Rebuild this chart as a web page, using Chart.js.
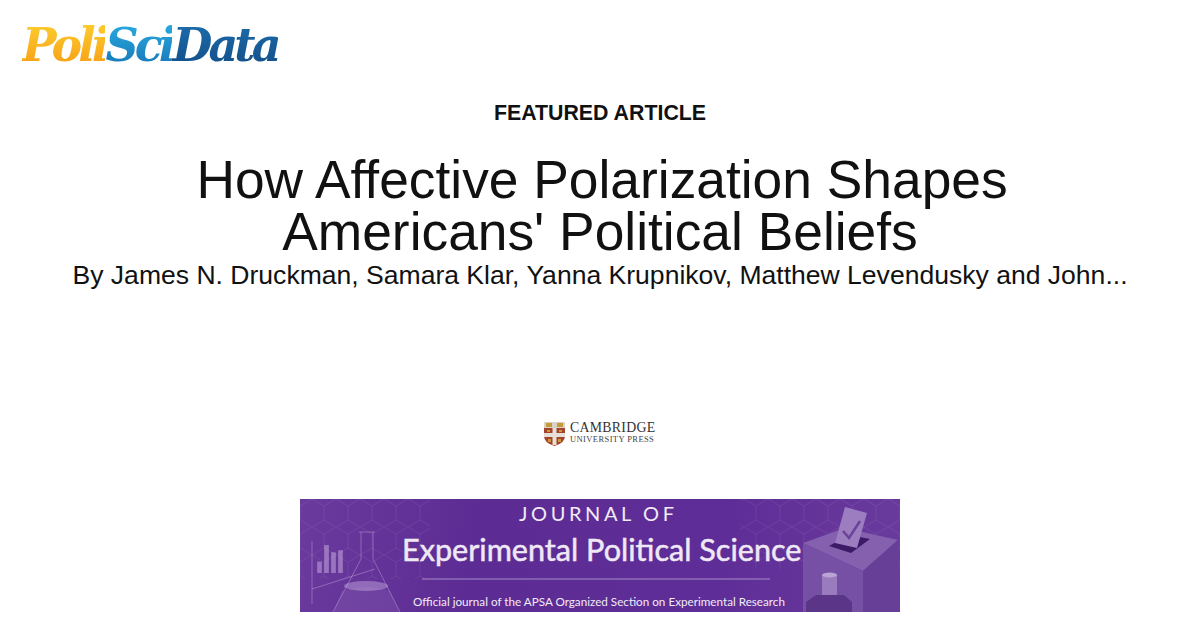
<!DOCTYPE html>
<html>
<head>
<meta charset="utf-8">
<script src="https://cdn.jsdelivr.net/npm/chart.js@4"></script>
<style>
html, body { margin: 0; padding: 0; background: #fff; }
#page { position: relative; width: 1200px; height: 630px; overflow: hidden; font-family: "Liberation Sans", Arial, sans-serif; color: #111; }
#page div, #page span, #page svg, #page canvas { position: absolute; white-space: nowrap; }
.center { left: 0; width: 1200px; text-align: center; }
#logo { left: 22px; top: 17px; font: italic 700 46px "DejaVu Serif", serif; letter-spacing: -3.9px; line-height: 56px; }
#logo span { position: static !important; -webkit-background-clip: text; background-clip: text; color: transparent; }
#poli { background-image: linear-gradient(#fcd232, #f79a12); }
#sci { background-image: linear-gradient(#2bb0e4, #1672b4); }
#data { background-image: linear-gradient(#1d6fae, #134c86); }
#banner { left: 300px; top: 499px; width: 600px; height: 113px; overflow: hidden;
  background: linear-gradient(100deg, #6a3a9d 0%, #5c2c94 30%, #5f2d97 70%, #6a3c9d 100%); }
#banner div { color: #f1ebf6; font-family: Lato, sans-serif; }
</style>
</head>
<body>
<div id="page">
  <div id="logo"><span id="poli">Poli</span><span id="sci">Sci</span><span id="data">Data</span></div>
  <div class="center" style="top:100px;font:bold 21.33px/26px 'Liberation Sans'">FEATURED ARTICLE</div>
  <div class="center" style="left:2px;top:154px;font:53.33px/52px 'Liberation Sans'">How Affective Polarization Shapes</div>
  <div class="center" style="top:206px;font:53.33px/52px 'Liberation Sans'">Americans' Political Beliefs</div>
  <div class="center" style="top:260px;font:26.55px/30px 'Liberation Sans'">By James N. Druckman, Samara Klar, Yanna Krupnikov, Matthew Levendusky and John...</div>

  <svg style="left:544px;top:422px" width="21" height="24" viewBox="0 0 21 24">
    <path d="M0 0H21V14Q21 21 10.5 24Q0 21 0 14Z" fill="#a5432f"/>
    <path d="M0 0H21V6H0Z" fill="#d9d2c6"/>
    <path d="M8.5 6h4v17h-4zM0 11h21v4H0z" fill="#e6e0d6"/>
    <path d="M2 1h6v4H2zM13 1h6v4h-6zM3 8h3v2H3zM15 8h3v2h-3zM4 17h3v3H4zM14 17h3v3h-3z" fill="#c79a3c"/>
  </svg>
  <div style="left:570px;top:421px;font:13.8px/14px 'Liberation Serif';color:#333;letter-spacing:.3px">CAMBRIDGE</div>
  <div style="left:570px;top:434px;font:8.5px/10px 'Liberation Serif';color:#444;letter-spacing:.4px">UNIVERSITY PRESS</div>

  <div id="banner">
    <svg style="left:0;top:0" width="600" height="113" viewBox="0 0 600 113">
      <defs>
        <pattern id="hex" width="24" height="28" patternUnits="userSpaceOnUse">
          <path d="M12 0L24 7V21L12 28L0 21V7Z" fill="none" stroke="#fff" stroke-opacity=".07"/>
        </pattern>
      </defs>
      <rect x="0" y="0" width="130" height="80" fill="url(#hex)"/>
      <rect x="440" y="0" width="160" height="70" fill="url(#hex)"/>
      <g fill="none" stroke="#c3a7dc" stroke-opacity=".45" stroke-width="1">
        <path d="M12 42V105M12 90L75 70"/>
        <path d="M59 33H75M61 33V60L33 113M73 33V60L100 113"/>
      </g>
      <path d="M42 92Q66 84 90 92L100 113H33Z" fill="#b394d2" fill-opacity=".15"/>
      <ellipse cx="66" cy="87" rx="22" ry="5" fill="#c8afe0" fill-opacity=".45"/>
      <path d="M503 44L545 29L598 41L563 72Z" fill="#8460ae"/>
      <path d="M503 44L563 72V113H503Z" fill="#7650a4"/>
      <path d="M563 72L598 41V113H563Z" fill="#673f96"/>
      <path d="M529 47L549 36L570 40L551 54Z" fill="#3d1a67"/>
      <path d="M545 8L567 14L557 49L535 44Z" fill="#9c7ec0"/>
      <path d="M543 32L549 39L560 22" fill="none" stroke="#6b4399" stroke-width="2.5"/>
      <path d="M522 76H537V96H522Z" fill="#9a7cbe"/>
      <ellipse cx="529.500" cy="76" rx="7.500" ry="2.500" fill="#bba3d6"/>
      <path d="M516 96H544L552 103V113H506V103Z" fill="#5a3588"/>
      <path d="M122 80H470" stroke="#a98cc9" stroke-width="1"/>
    </svg>
    <canvas id="barIcon" style="left:16px;top:45px" width="28" height="29"></canvas>
    <div style="left:219px;top:2px;font-size:20px;line-height:24px;letter-spacing:3.6px">JOURNAL OF</div>
    <div style="left:102px;top:33px;font-size:30.6px;line-height:36px;font-weight:400;-webkit-text-stroke:.5px #efe8f5;color:#efe8f5">Experimental Political Science</div>
    <div style="left:113px;top:94px;font-size:11.7px;line-height:16px">Official journal of the APSA Organized Section on Experimental Research</div>
  </div>
</div>

<script>
// Little bar icon inside the journal banner
const iconLabels = ['a', 'b', 'c', 'd'];
const iconValues = [11, 27, 20, 22];

document.addEventListener('DOMContentLoaded', function () {
    const iconCtx = document.getElementById('barIcon');
    new Chart(iconCtx, {
        type: 'bar',
        data: {
            labels: iconLabels,
            datasets: [{
                data: iconValues,
                backgroundColor: 'rgba(205, 180, 228, 0.5)',
                categoryPercentage: 0.9,
                barPercentage: 0.75
            }]
        },
        options: {
            responsive: false,
            animation: false,
            layout: { padding: 0 },
            plugins: {
                legend: { display: false },
                tooltip: { enabled: false }
            },
            scales: {
                x: { display: false },
                y: { display: false, beginAtZero: true, max: 28 }
            }
        }
    });
});
</script>
</body>
</html>
